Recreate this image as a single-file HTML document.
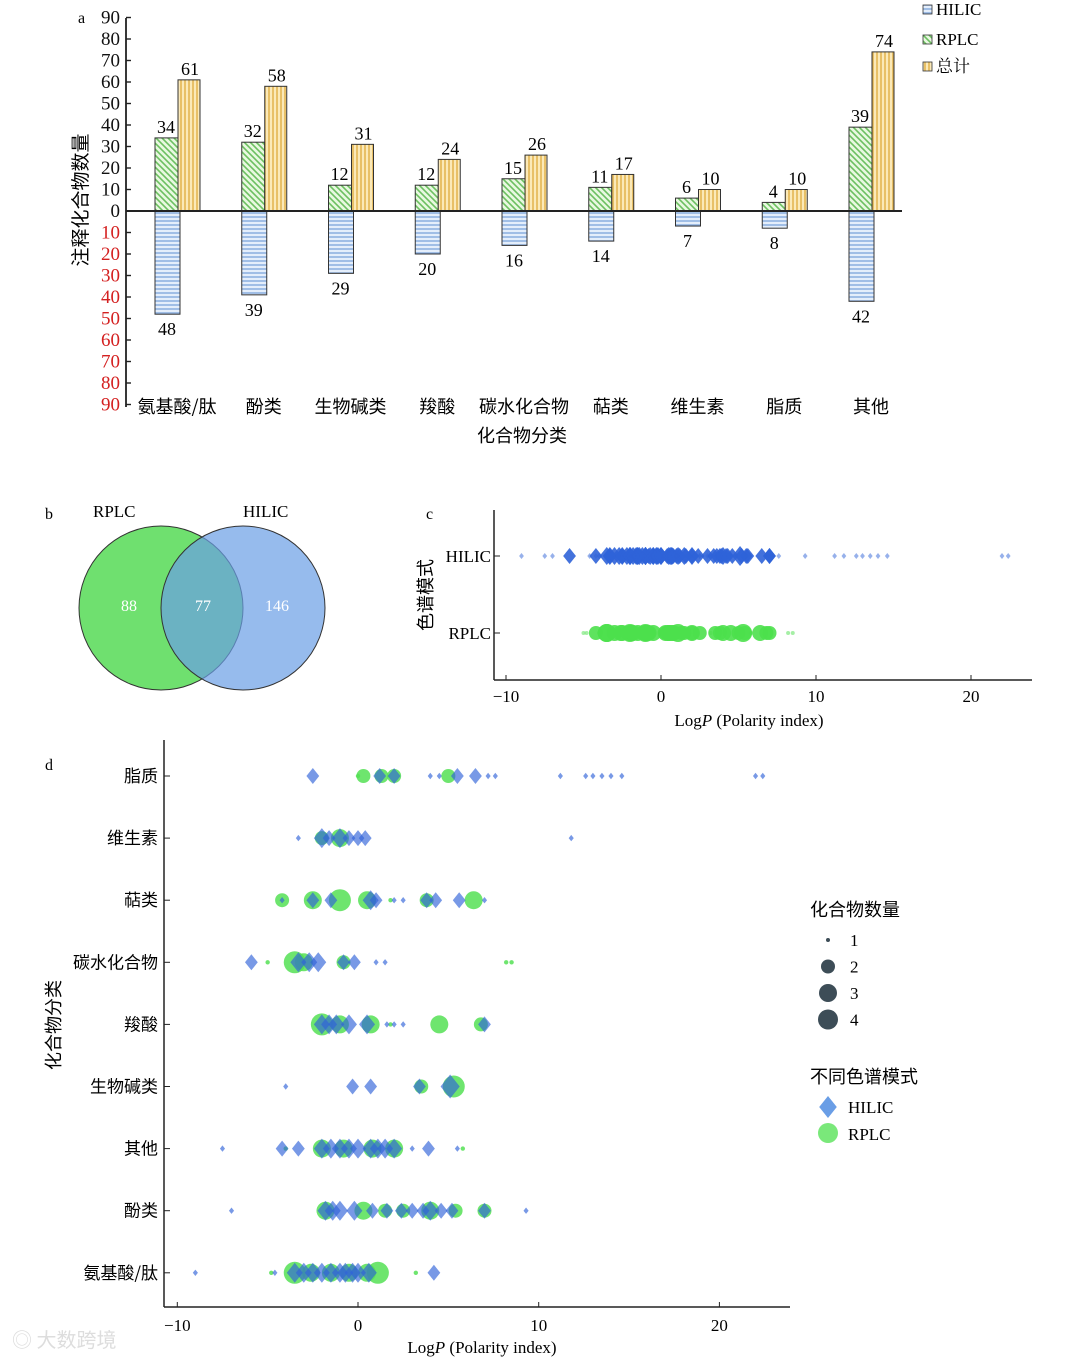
<!DOCTYPE html>
<html><head><meta charset="utf-8">
<style>
body{margin:0;background:#fff}
svg{display:block;font-family:"Liberation Serif","Noto Serif CJK SC",serif}
</style></head>
<body>
<svg id="fig" width="1080" height="1359" viewBox="0 0 1080 1359" xmlns="http://www.w3.org/2000/svg">
<defs>
<pattern id="pg" width="6" height="6" patternUnits="userSpaceOnUse"><rect width="6" height="6" fill="#e8f8e0"/><path d="M-1,-1 L7,7 M-4,2 L2,8 M2,-4 L8,2" stroke="#6cc060" stroke-width="1.6"/></pattern>
<pattern id="py" width="4" height="6" patternUnits="userSpaceOnUse"><rect width="4" height="6" fill="#fbe9b8"/><path d="M1,0 V6" stroke="#e2b24c" stroke-width="1.5"/></pattern>
<pattern id="pb" width="6" height="4" patternUnits="userSpaceOnUse"><rect width="6" height="4" fill="#e4eefb"/><path d="M0,1 H6" stroke="#8aaee0" stroke-width="1.5"/></pattern>
</defs>
<g id="pa"></g>
<g id="pb">
<text x="45" y="519" font-size="16">b</text>
<text x="93" y="517" font-size="17">RPLC</text>
<text x="243" y="517" font-size="17">HILIC</text>
<circle cx="161" cy="608" r="82" fill="#6fe06f" stroke="#333" stroke-width="1"/>
<circle cx="243" cy="608" r="82" fill="#6a9ee6" fill-opacity="0.7" stroke="#333" stroke-width="1"/>
<text x="129" y="611" font-size="16" fill="#fff" text-anchor="middle">88</text>
<text x="203" y="611" font-size="16" fill="#fff" text-anchor="middle">77</text>
<text x="277" y="611" font-size="16" fill="#fff" text-anchor="middle">146</text>
</g>
<g id="pc"></g>
<g id="pd"></g>
</svg>
<script>
// ---------- Panel a data ----------
const catsA = ["氨基酸/肽","酚类","生物碱类","羧酸","碳水化合物","萜类","维生素","脂质","其他"];
const rplcA = [34,32,12,12,15,11,6,4,39];
const totalA = [61,58,31,24,26,17,10,10,74];
const hilicA = [48,39,29,20,16,14,7,8,42];
const ticksA = [90,80,70,60,50,40,30,20,10,0,10,20,30,40,50,60,70,80,90];

// ---------- Panel d data: [logP, count] ----------
const catsD = ["脂质","维生素","萜类","碳水化合物","羧酸","生物碱类","其他","酚类","氨基酸/肽"];
const hilicD = [
 [[-2.5,2],[1.2,2],[2,2],[4,1],[4.5,1],[5.5,2],[6.5,2],[7.2,1],[7.6,1],[11.2,1],[12.6,1],[13,1],[13.5,1],[14,1],[14.6,1],[22,1],[22.4,1]],
 [[-3.3,1],[-2,3],[-1.6,2],[-1,3],[-0.5,2],[0,2],[0.4,2],[11.8,1]],
 [[-4.2,1],[-2.5,2],[-1.5,2],[0.7,3],[1,2],[2,1],[2.5,1],[3.8,2],[4.3,2],[5.6,2],[7,1]],
 [[-5.9,2],[-3.3,3],[-2.7,3],[-2.2,3],[-0.8,2],[-0.2,2],[1,1],[1.5,1]],
 [[-2,3],[-1.6,3],[-1.2,3],[-0.5,3],[0.5,3],[1.6,1],[2,1],[2.5,1],[7,2]],
 [[-4,1],[-0.3,2],[0.7,2],[3.4,2],[5.1,4]],
 [[-7.5,1],[-4.2,2],[-3.3,2],[-2,3],[-1.5,3],[-1,3],[-0.5,3],[0,3],[0.7,3],[1.1,3],[1.5,3],[2,3],[3,1],[3.9,2],[5.5,1]],
 [[-7,1],[-1.8,3],[-1.4,3],[-1,3],[-0.2,3],[0.8,2],[1.6,2],[2.4,2],[3,2],[3.6,2],[4,3],[4.6,2],[5.2,2],[7,2],[9.3,1]],
 [[-9,1],[-4.6,1],[-3.5,3],[-3,3],[-2.5,3],[-2,3],[-1.5,3],[-1,3],[-0.7,3],[-0.3,3],[0,3],[0.6,3],[4.2,2]]
];
const rplcD = [
 [[0.3,2],[1.3,2],[2,2],[5,2],[0,1]],
 [[-1,3],[-2,2]],
 [[-4.2,2],[-2.5,3],[-1,4],[0.5,3],[1.8,1],[3.8,2],[6.4,3]],
 [[-5,1],[-3.5,4],[-3,3],[-0.8,2],[8.2,1],[8.5,1]],
 [[-2,4],[-1,3],[0.7,3],[1.8,1],[4.5,3],[6.8,2]],
 [[3.5,2],[5.3,4]],
 [[-4,1],[-2,3],[-0.8,3],[0.8,3],[2,3],[5.8,1]],
 [[-1.8,3],[0.3,3],[1.5,2],[2.5,2],[4,3],[5.4,2],[7,2]],
 [[-4.8,1],[-3.5,4],[-2.6,3],[-1.5,3],[-0.5,3],[0.5,3],[1.1,4],[3.2,1]]
];
const ticksX = [-10,0,10,20];
const legendSizes = [1,2,3,4];

const NS="http://www.w3.org/2000/svg";
function mk(parent,tag,attrs,text){const e=document.createElementNS(NS,tag);for(const k in attrs)e.setAttribute(k,attrs[k]);if(text!==undefined)e.textContent=text;parent.appendChild(e);return e;}

// ===== Panel a =====
(function(){
 const g=document.getElementById('pa');
 const y0=211, k=2.15, ax=126;
 const yA=v=>y0-v*k;
 const xC=i=>177+i*86.75;
 let t=mk(g,'text',{x:78,y:23,'font-size':16});
 t.textContent='a';
 let l=mk(g,'line',{x1:ax,y1:18,x2:ax,y2:407,stroke:'#222','stroke-width':1.8});
 
 ticksA.forEach((v,i)=>{
  const val=i<9?v:(i==9?0:-v);
  const y=yA(val);
  mk(g,'line',{x1:ax,y1:y,x2:ax+5,y2:y,stroke:'#222','stroke-width':1.4});
  const tt=mk(g,'text',{x:ax-6,y:y+6,'font-size':19,'text-anchor':'end',fill:i>9?'#d42020':'#111'},String(v));
  
 });
 const yl=mk(g,'text',{transform:'translate(87,200) rotate(-90)','font-size':19,'text-anchor':'middle','font-family':'"Noto Sans CJK SC",sans-serif'},'注释化合物数量');
 
 catsA.forEach((c,i)=>{
  const cx=xC(i);
  const r=mk(g,'rect',{x:cx-22,y:yA(rplcA[i]),width:23,height:rplcA[i]*k,fill:'url(#pg)',stroke:'#333','stroke-width':1});
  
  const ty=mk(g,'rect',{x:cx+1,y:yA(totalA[i]),width:22,height:totalA[i]*k,fill:'url(#py)',stroke:'#333','stroke-width':1});
  
  const b=mk(g,'rect',{x:cx-22,y:y0,width:25,height:hilicA[i]*k,fill:'url(#pb)',stroke:'#333','stroke-width':1});
  
  let a1=mk(g,'text',{x:cx-11,y:yA(rplcA[i])-5,'font-size':18,'text-anchor':'middle'},String(rplcA[i]));
  
  let a2=mk(g,'text',{x:cx+13,y:yA(totalA[i])-5,'font-size':18,'text-anchor':'middle'},String(totalA[i]));
  
  let a3=mk(g,'text',{x:cx-10,y:y0+hilicA[i]*k+21,'font-size':18,'text-anchor':'middle'},String(hilicA[i]));
  
  let cl=mk(g,'text',{x:cx,y:413,'font-size':18,'text-anchor':'middle','font-family':'"Noto Sans CJK SC",sans-serif'},c);
  
 });
 let z=mk(g,'line',{x1:ax,y1:y0,x2:902,y2:y0,stroke:'#222','stroke-width':2});
 
 let xt=mk(g,'text',{x:522,y:442,'font-size':18,'text-anchor':'middle','font-family':'"Noto Sans CJK SC",sans-serif'},'化合物分类');
 
 [['HILIC','url(#pb)',10],['RPLC','url(#pg)',40],['总计','url(#py)',67]].forEach(d=>{
  const lg=mk(g,'g',{});
  
  mk(lg,'rect',{x:923,y:d[2]-5,width:9,height:9,fill:d[1],stroke:'#333','stroke-width':0.8});
  mk(lg,'text',{x:936,y:d[2]+5,'font-size':17,'font-family':'"Liberation Serif","Noto Serif CJK SC",serif'},d[0]);
 });
})();

function diamond(g,x,y,r,fill,op){return mk(g,'path',{d:`M${x},${y-r}L${x+r*0.8},${y}L${x},${y+r}L${x-r*0.8},${y}Z`,fill:fill,'fill-opacity':op});}

// ===== Panel c =====
(function(){
 const g=document.getElementById('pc');
 const xS=v=>661+v*15.5;
 let t=mk(g,'text',{x:426,y:519,'font-size':16},'c');
 
 let ya=mk(g,'line',{x1:494,y1:510,x2:494,y2:680,stroke:'#222','stroke-width':1.5});
 
 let xa=mk(g,'line',{x1:494,y1:680,x2:1032,y2:680,stroke:'#222','stroke-width':1.5});
 
 ticksX.forEach(v=>{mk(g,'line',{x1:xS(v),y1:680,x2:xS(v),y2:675,stroke:'#222'});
  const tt=mk(g,'text',{x:xS(v),y:702,'font-size':17,'text-anchor':'middle'},v<0?'\u2212'+(-v):String(v));
  });
 [['HILIC',556],['RPLC',633]].forEach(d=>{mk(g,'line',{x1:494,y1:d[1],x2:500,y2:d[1],stroke:'#222'});
  const tt=mk(g,'text',{x:491,y:d[1]+6,'font-size':17,'text-anchor':'end'},d[0]);
  });
 let yt=mk(g,'text',{transform:'translate(432,595) rotate(-90)','font-size':18,'text-anchor':'middle','font-family':'"Noto Sans CJK SC",sans-serif'},'色谱模式');
 
 let xt=mk(g,'text',{x:749,y:726,'font-size':17,'text-anchor':'middle'});
 xt.innerHTML='Log<tspan font-style="italic">P</tspan> (Polarity index)';
 
 const rr=[0,2,7,8,9];
 hilicD.forEach(row=>row.forEach(p=>{const m=diamond(g,xS(p[0]),556,rr[p[1]]+1,'#2f63d8',p[1]>1?0.9:0.5);
  }));
 rplcD.forEach(row=>row.forEach(p=>{const m=mk(g,'circle',{cx:xS(p[0]),cy:633,r:rr[p[1]],fill:'#4de04d','fill-opacity':p[1]>1?0.9:0.5});
  }));
})();

// ===== Panel d =====
(function(){
 const g=document.getElementById('pd');
 const xS=v=>358+v*18.07;
 const yS=i=>776+i*62.1;
 const rr=[0,2.2,7,9,11];
 let t=mk(g,'text',{x:45,y:770,'font-size':16},'d');
 
 let ya=mk(g,'line',{x1:164,y1:740,x2:164,y2:1307,stroke:'#222','stroke-width':1.5});
 
 let xa=mk(g,'line',{x1:164,y1:1307,x2:790,y2:1307,stroke:'#222','stroke-width':1.5});
 
 ticksX.forEach(v=>{mk(g,'line',{x1:xS(v),y1:1307,x2:xS(v),y2:1302,stroke:'#222'});
  const tt=mk(g,'text',{x:xS(v),y:1331,'font-size':17,'text-anchor':'middle'},v<0?'\u2212'+(-v):String(v));
  });
 catsD.forEach((c,i)=>{mk(g,'line',{x1:164,y1:yS(i),x2:170,y2:yS(i),stroke:'#222'});
  const tt=mk(g,'text',{x:158,y:yS(i)+6,'font-size':17,'text-anchor':'end','font-family':'"Noto Sans CJK SC",sans-serif'},c);
  });
 let yt=mk(g,'text',{transform:'translate(60,1025) rotate(-90)','font-size':18,'text-anchor':'middle','font-family':'"Noto Sans CJK SC",sans-serif'},'化合物分类');
 
 let xt=mk(g,'text',{x:482,y:1353,'font-size':17,'text-anchor':'middle'});
 xt.innerHTML='Log<tspan font-style="italic">P</tspan> (Polarity index)';
 
 rplcD.forEach((row,i)=>row.forEach(p=>{const m=mk(g,'circle',{cx:xS(p[0]),cy:yS(i),r:rr[p[1]],fill:'#55e055','fill-opacity':0.85});
  }));
 hilicD.forEach((row,i)=>row.forEach(p=>{const m=diamond(g,xS(p[0]),yS(i),rr[p[1]]+1,'#2f63d8',0.65);
  }));
 // legend
 const lt=mk(g,'text',{x:810,y:916,'font-size':18,'font-family':'"Noto Sans CJK SC",sans-serif'},'化合物数量');
 
 const lr=[0,2,7,9,10];
 legendSizes.forEach((s,i)=>{const lg=mk(g,'g',{});
  
  mk(lg,'circle',{cx:828,cy:940+i*26.5,r:lr[s],fill:'#3d4d57'});
  mk(lg,'text',{x:850,y:946+i*26.5,'font-size':17},String(s));});
 const mt=mk(g,'text',{x:810,y:1083,'font-size':18,'font-family':'"Noto Sans CJK SC",sans-serif'},'不同色谱模式');
 
 const l1=mk(g,'g',{});
 diamond(l1,828,1107,11,'#6a9ee6',1);mk(l1,'text',{x:848,y:1113,'font-size':17},'HILIC');
 const l2=mk(g,'g',{});
 mk(l2,'circle',{cx:828,cy:1133,r:10,fill:'#7ae87a'});mk(l2,'text',{x:848,y:1140,'font-size':17},'RPLC');
 const wm=mk(g,'text',{x:12,y:1347,'font-size':20,fill:'#ddd','font-family':'"Noto Sans CJK SC",sans-serif'},'◎ 大数跨境');
 
})();
</script>
</body></html>
